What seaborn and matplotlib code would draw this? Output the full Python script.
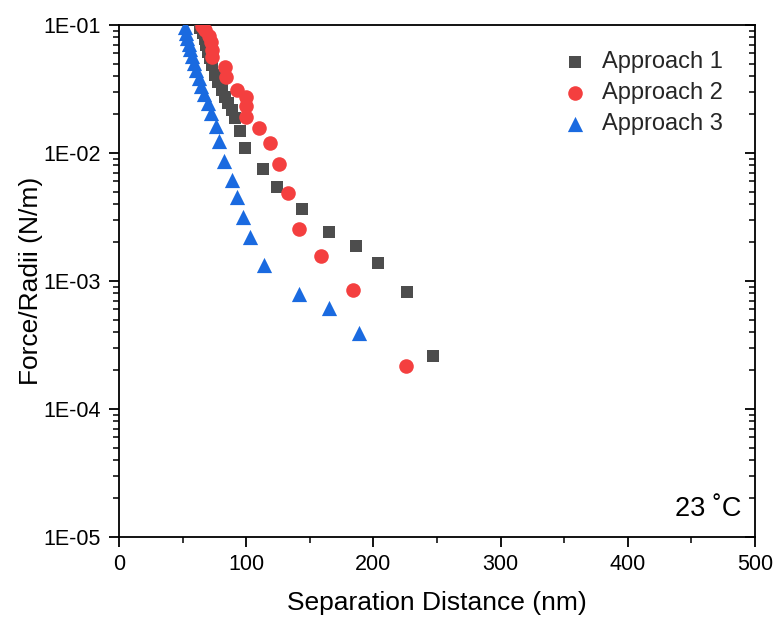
import numpy as np
import pandas as pd
import matplotlib
matplotlib.use("Agg")
import matplotlib.pyplot as plt
import seaborn as sns
from matplotlib.ticker import LogLocator, FuncFormatter, MultipleLocator, NullFormatter

# ---------------- data ----------------
a1_x = [64, 66, 67.6, 68.4, 70, 71.5, 72.9, 75.5, 78, 80.7, 83.3, 85.9, 88.6, 91.2, 95.1,
        99.4, 113.2, 124.2, 143.9, 165.1, 186.3, 203.6, 226.4, 246.9]
a1_y = [0.095, 0.087, 0.078, 0.0698, 0.0615, 0.0552, 0.0487, 0.0407, 0.036, 0.031, 0.0275,
        0.0244, 0.0217, 0.0187, 0.0149, 0.011, 0.0075, 0.00542, 0.00365, 0.00242, 0.00187,
        0.00138, 0.00082, 0.00026]

a2_x = [65, 67.6, 70.8, 72.3, 73.1, 73.1, 83.3, 84.1, 92.8, 99.8, 99.8, 99.8, 110.1, 118.7,
        125.8, 132.9, 141.5, 158.8, 184.0, 225.6]
a2_y = [0.098, 0.0914, 0.082, 0.0736, 0.0638, 0.0562, 0.047, 0.0393, 0.031, 0.0274, 0.0233,
        0.0191, 0.0157, 0.01197, 0.0082, 0.00487, 0.00255, 0.00157, 0.000851, 0.000217]

a3_x = [51.9, 52.7, 53.5, 55.0, 55.8, 57.4, 59.0, 60.5, 62.9, 64.5, 66.8, 70.0, 72.3, 76.3,
        78.6, 82.5, 88.8, 92.8, 97.5, 103.0, 114.0, 141.5, 165.1, 188.7]
a3_y = [0.0965, 0.0866, 0.0791, 0.0711, 0.0649, 0.0573, 0.0505, 0.0445, 0.0385, 0.0334,
        0.0289, 0.0246, 0.0205, 0.01625, 0.0124, 0.00866, 0.00615, 0.00453, 0.00316, 0.00221,
        0.00133, 0.000794, 0.000615, 0.000393]

series_names = ["Approach 1", "Approach 2", "Approach 3"]
x_ticks = [0, 100, 200, 300, 400, 500]
y_ticks = [1e-5, 1e-4, 1e-3, 1e-2, 1e-1]
annotation = "23 \u02daC"

df = pd.DataFrame({
    "x": a1_x + a2_x + a3_x,
    "y": a1_y + a2_y + a3_y,
    "series": [series_names[0]] * len(a1_x) + [series_names[1]] * len(a2_x) + [series_names[2]] * len(a3_x),
})

sns.set_theme(style="white")
plt.rcParams["font.family"] = ["Liberation Sans", "DejaVu Sans"]

fig = plt.figure(figsize=(7.76, 6.17), dpi=100)
ax = fig.add_axes([119 / 776, 1 - 537 / 617, (755 - 119) / 776, (537 - 25) / 617])

palette = {series_names[0]: "#4d4d4d", series_names[1]: "#f43f3f", series_names[2]: "#1a6ae0"}
markers = {series_names[0]: "s", series_names[1]: "o", series_names[2]: "^"}
sizes = {series_names[0]: 85, series_names[1]: 110, series_names[2]: 120}

for name in series_names:
    sub = df[df["series"] == name]
    sns.scatterplot(data=sub, x="x", y="y", color=palette[name], marker=markers[name],
                    s=sizes[name], linewidth=0, ax=ax, label=name, zorder=3)

ax.set_yscale("log")
ax.set_xlim(0, 500)
ax.set_ylim(1e-5, 1e-1)

ax.set_xticks(x_ticks)
ax.xaxis.set_minor_locator(MultipleLocator(50))
ax.set_yticks(y_ticks)
ax.yaxis.set_major_formatter(FuncFormatter(lambda v, p: "1E-%02d" % round(-np.log10(v))))
ax.yaxis.set_minor_locator(LogLocator(base=10, subs=np.arange(2, 10)))
ax.yaxis.set_minor_formatter(NullFormatter())

for sp in ax.spines.values():
    sp.set_visible(True)
    sp.set_color("black")
    sp.set_linewidth(1.3)

ax.tick_params(axis="both", which="major", labelsize=15.5, colors="black", length=7, width=1.3)
ax.tick_params(axis="both", which="minor", length=4, width=1.1, colors="black")
ax.tick_params(axis="x", which="both", direction="out", bottom=True, top=False, pad=5)
ax.tick_params(axis="y", which="both", direction="out", left=True, right=False, pad=6)

# right-hand inward ticks
ax_r = ax.twinx()
ax_r.set_yscale("log")
ax_r.set_ylim(1e-5, 1e-1)
ax_r.set_yticks(y_ticks)
ax_r.yaxis.set_minor_locator(LogLocator(base=10, subs=np.arange(2, 10)))
ax_r.yaxis.set_major_formatter(NullFormatter())
ax_r.yaxis.set_minor_formatter(NullFormatter())
ax_r.tick_params(axis="y", which="major", direction="in", length=7, width=1.3, colors="black")
ax_r.tick_params(axis="y", which="minor", direction="in", length=4, width=1.1, colors="black")
ax_r.grid(False)
for sp in ax_r.spines.values():
    sp.set_visible(False)

ax.set_xlabel("Separation Distance (nm)", fontsize=19, color="black", labelpad=12)
ax.set_ylabel("Force/Radii (N/m)", fontsize=19, color="black", labelpad=0)

ax.text(0.978, 0.03, annotation, transform=ax.transAxes, ha="right", va="bottom",
        fontsize=19.5, color="black")

leg = ax.legend(loc="upper right", bbox_to_anchor=(0.975, 0.981), frameon=False,
                fontsize=17, handletextpad=0.15, labelspacing=0.38, borderaxespad=0.3)

ax.grid(False)
fig.savefig("out.png", dpi=100)
